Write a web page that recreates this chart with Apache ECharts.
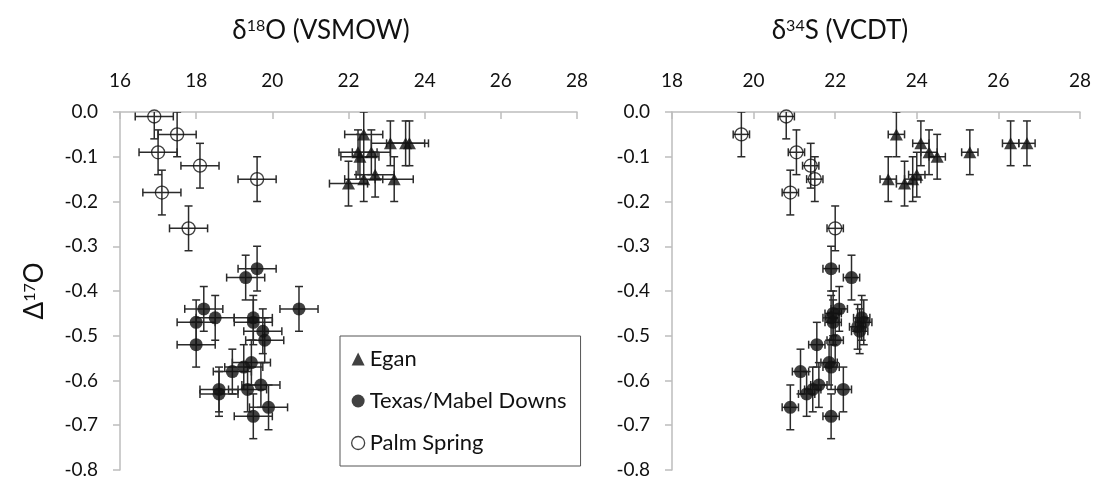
<!DOCTYPE html>
<html>
<head>
<meta charset="utf-8">
<script src="https://cdn.jsdelivr.net/npm/echarts@6/dist/echarts.min.js"></script>
<style>
    html, body {margin: 0; padding: 0; background: #fff;}
    #chart {width: 1094px; height: 486px;}
</style>
</head>
<body>
<div id="chart"></div>
<script>
/*数据: [x, Δ17O]*/
var eganO = [[22.4, -0.05], [23.1, -0.07], [23.5, -0.07], [23.6, -0.07], [22.25, -0.09], [22.6, -0.09],
    [22.3, -0.10], [22.0, -0.16], [22.4, -0.15], [22.7, -0.14], [23.2, -0.15]];
var texasO = [[19.6, -0.35], [19.3, -0.37], [18.2, -0.44], [18.0, -0.47], [18.5, -0.46], [20.7, -0.44],
    [19.5, -0.46], [19.5, -0.47], [19.75, -0.49], [19.8, -0.51], [18.0, -0.52], [19.45, -0.56],
    [19.25, -0.57], [18.95, -0.58], [18.6, -0.62], [18.6, -0.63], [19.35, -0.62], [19.7, -0.61],
    [19.9, -0.66], [19.5, -0.68]];
var palmO = [[16.9, -0.01], [17.5, -0.05], [17.0, -0.09], [18.1, -0.12], [19.6, -0.15], [17.1, -0.18], [17.8, -0.26]];

var eganS = [[23.5, -0.05], [24.1, -0.07], [24.3, -0.09], [24.5, -0.10], [25.3, -0.09], [26.3, -0.07],
    [26.7, -0.07], [23.3, -0.15], [23.7, -0.16], [23.9, -0.15], [24.0, -0.14]];
var texasS = [[21.9, -0.35], [22.4, -0.37], [22.1, -0.44], [21.95, -0.45], [21.9, -0.46], [21.95, -0.47],
    [22.65, -0.46], [22.7, -0.47], [22.55, -0.48], [22.6, -0.49], [22.0, -0.51], [21.55, -0.52],
    [21.85, -0.56], [21.9, -0.57], [21.15, -0.58], [21.6, -0.61], [21.45, -0.62], [21.3, -0.63],
    [22.2, -0.62], [20.9, -0.66], [21.9, -0.68]];
var palmS = [[19.7, -0.05], [20.8, -0.01], [21.05, -0.09], [21.4, -0.12], [21.5, -0.15], [20.9, -0.18], [22.0, -0.26]];

/*误差 (±)*/
var errO = 0.5, errS = 0.2, errD17 = 0.05;

var font = 'Lato, "Open Sans", sans-serif';
var barColor = '#2b2b2b';

// 误差棒
var errBar = function (xe, ye) {
    return function (params, api) {
        var x = api.value(0), y = api.value(1);
        var l = api.coord([x - xe, y]), r = api.coord([x + xe, y]);
        var t = api.coord([x, y + ye]), b = api.coord([x, y - ye]);
        var cap = 4;
        var st = {stroke: barColor, lineWidth: 1.5};
        var seg = function (x1, y1, x2, y2) {
            return {type: 'line', shape: {x1: x1, y1: y1, x2: x2, y2: y2}, style: st};
        };
        return {
            type: 'group',
            children: [
                seg(l[0], l[1], r[0], r[1]),
                seg(t[0], t[1], b[0], b[1]),
                seg(l[0], l[1] - cap, l[0], l[1] + cap),
                seg(r[0], r[1] - cap, r[0], r[1] + cap),
                seg(t[0] - cap, t[1], t[0] + cap, t[1]),
                seg(b[0] - cap, b[1], b[0] + cap, b[1])
            ]
        };
    };
};

var errSeries = function (data, xe, idx) {
    return {
        type: 'custom', name: 'err' + idx, xAxisIndex: idx, yAxisIndex: idx,
        renderItem: errBar(xe, errD17), data: data, clip: true, silent: true, z: 1
    };
};

var pointSeries = function (name, data, idx) {
    var s = {type: 'scatter', name: name, xAxisIndex: idx, yAxisIndex: idx, data: data, z: 3};
    if (name === 'Egan') {
        s.symbol = 'triangle';
        s.symbolSize = [13, 12];
        s.itemStyle = {color: '#111'};
    } else if (name === 'Texas/Mabel Downs') {
        s.symbol = 'circle';
        s.symbolSize = 13;
        s.itemStyle = {color: '#111'};
    } else {
        s.symbol = 'circle';
        s.symbolSize = 13;
        s.itemStyle = {color: 'rgba(0,0,0,0)', borderColor: '#111', borderWidth: 1.3};
    }
    return s;
};

var xAxisBase = function (idx, min) {
    return {
        gridIndex: idx, type: 'value', position: 'top', min: min, max: 28, interval: 2,
        axisLine: {show: true, onZero: false, lineStyle: {color: '#bdbdbd', width: 1.5}},
        axisTick: {show: true, inside: true, length: 7, lineStyle: {color: '#bdbdbd', width: 1.5}},
        axisLabel: {margin: 22, color: '#111', fontSize: 19, fontFamily: font},
        splitLine: {show: false}
    };
};

var yAxisBase = function (idx) {
    return {
        gridIndex: idx, type: 'value', min: -0.8, max: 0, interval: 0.1,
        axisLine: {show: true, onZero: false, lineStyle: {color: '#bdbdbd', width: 1.5}},
        axisTick: {show: true, length: 7, lineStyle: {color: '#bdbdbd', width: 1.5}},
        axisLabel: {
            margin: 22, color: '#111', fontSize: 19, fontFamily: font,
            formatter: function (v) { return v.toFixed(1); }
        },
        splitLine: {show: false}
    };
};

var supRich = {
    a: {fontSize: 26, fontWeight: 'normal', fontFamily: font, color: '#111'},
    sup: {fontSize: 16, fontWeight: 'normal', fontFamily: font, color: '#111', verticalAlign: 'top', padding: [0, 0, 10, 0]}
};

var box = document.getElementById('chart');
var myChart = echarts.init(box);

var yLeft = yAxisBase(0);
yLeft.name = '{a|Δ}{sup|17}{a|O}';
yLeft.nameLocation = 'middle';
yLeft.nameGap = 72;
yLeft.nameRotate = 90;
yLeft.nameTextStyle = {rich: supRich};

var options = {
    animation: false,
    backgroundColor: '#fff',
    title: [
        {text: '{a|δ}{sup|18}{a|O (VSMOW)}', left: 316, top: 13, textAlign: 'center',
            textStyle: {fontWeight: 'normal', rich: supRich}},
        {text: '{a|δ}{sup|34}{a|S (VCDT)}', left: 835, top: 13, textAlign: 'center',
            textStyle: {fontWeight: 'normal', rich: supRich}}
    ],
    grid: [
        {left: 120, top: 112, width: 457, height: 358},
        {left: 672, top: 112, width: 409, height: 358}
    ],
    legend: {
        orient: 'vertical', left: 340, top: 336,
        padding: [12, 14, 12, 11], itemGap: 20, itemWidth: 13, itemHeight: 13,
        borderColor: '#555', borderWidth: 1, backgroundColor: '#fff',
        textStyle: {fontSize: 22, fontFamily: font, color: '#111'},
        data: [
            {name: 'Egan', icon: 'triangle'},
            {name: 'Texas/Mabel Downs', icon: 'circle'},
            {name: 'Palm Spring', icon: 'circle', itemStyle: {color: '#fff', borderColor: '#111', borderWidth: 1.3}}
        ]
    },
    xAxis: [xAxisBase(0, 16), xAxisBase(1, 18)],
    yAxis: [yLeft, yAxisBase(1)],
    series: [
        errSeries(eganO, errO, 0), errSeries(texasO, errO, 0), errSeries(palmO, errO, 0),
        errSeries(eganS, errS, 1), errSeries(texasS, errS, 1), errSeries(palmS, errS, 1),
        pointSeries('Egan', eganO, 0), pointSeries('Texas/Mabel Downs', texasO, 0), pointSeries('Palm Spring', palmO, 0),
        pointSeries('Egan', eganS, 1), pointSeries('Texas/Mabel Downs', texasS, 1), pointSeries('Palm Spring', palmS, 1)
    ]
};
myChart.setOption(options);
</script>
</body>
</html>
